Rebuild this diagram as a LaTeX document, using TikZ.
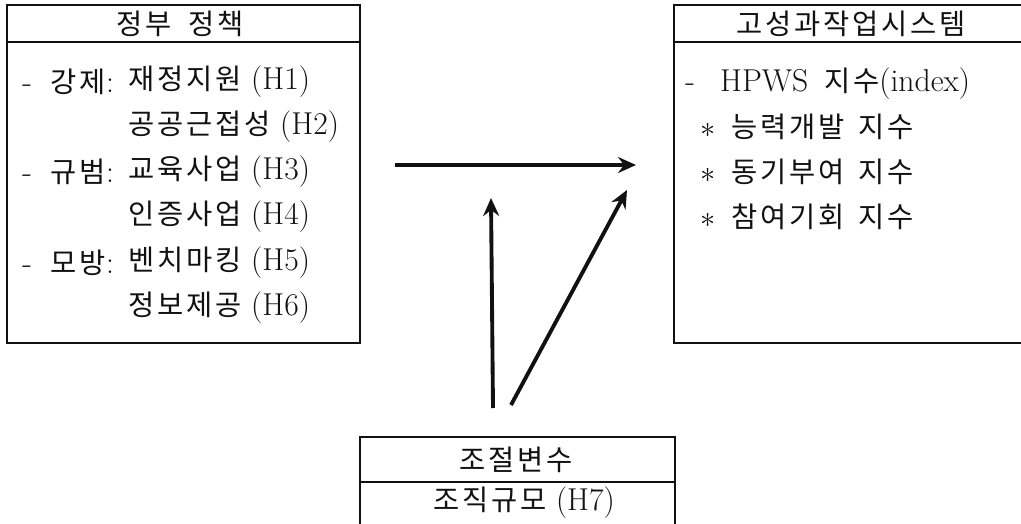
\documentclass[tikz,border=0pt]{standalone}
\usepackage{fontspec}
\newfontfamily\kr[Scale=0.9,LetterSpace=10]{Noto Sans CJK KR}
\usetikzlibrary{arrows.meta,positioning,calc}
\definecolor{ink}{HTML}{111111}
\tikzset{
  box/.style={draw=ink, line width=1.1pt, inner sep=0pt, outer sep=0pt},
  rule/.style={draw=ink, line width=1.1pt},
  head/.style={font=\fontsize{18}{21}\selectfont, text=ink, inner sep=0pt},
  item/.style={anchor=west, font=\fontsize{18}{21}\selectfont, text=ink, inner sep=0pt},
  arrow/.style={-{Stealth[length=3.6mm,width=3.2mm,inset=1.2mm]}, line width=2.2pt, draw=ink}
}

\begin{document}
\begin{tikzpicture}[x=0.02cm, y=-0.02cm]
\useasboundingbox (0,0) rectangle (1021,524);
\clip (0,0) rectangle (1021,524);
% boxes
\node[box, minimum width=7.06cm, minimum height=6.76cm] (policy) at (183.5,174) {};
\node[box, minimum width=7.12cm, minimum height=6.76cm] (hpws) at (852,174) {};
\node[box, minimum width=6.3cm, minimum height=2.2cm] (moder) at (517.5,492) {};
\draw[rule] ($(policy.north west)+(0,37)$) -- ($(policy.north east)+(0,37)$);
\draw[rule] ($(hpws.north west)+(0,37)$) -- ($(hpws.north east)+(0,37)$);
\draw[rule] ($(moder.north west)+(0,45)$) -- ($(moder.north east)+(0,45)$);
% headings
\node[head] (policyhead) at (180,24) {\kr 정부\hspace{0.6em}정책};
\node[head] (hpwshead) at (851,24) {\kr 고성과작업시스템};
\node[head] (moderhead) at (516,460) {\kr 조절변수};
\node[head] (modersize) at (524,503) {{\kr 조직규모}\ (H7)};
% policy items
\foreach \n/\y/\k in {1/82/강제, 3/172/규범, 5/263/모방}
  \node[item] (cat\n) at (22,\y) {-\hspace{0.6em}{\kr \k}:};
\foreach \n/\y/\k in {1/82/재정지원, 2/127/공공근접성, 3/172/교육사업, 4/217/인증사업, 5/263/벤치마킹, 6/308/정보제공}
  \node[item] (item\n) at (128,\y) {{\kr \k}\ (H\n)};
% hpws items
\node[item] (index) at (685,84) {-\hspace{0.8em}HPWS\hspace{0.5em}{\kr 지수}(index)};
\foreach \n/\y/\k in {1/127/능력개발, 2/172/동기부여, 3/217/참여기회}
  \node[item] (sub\n) at (700,\y) {$\ast$\hspace{0.5em}{\kr \k\hspace{0.5em}지수}};
% arrows
\coordinate (pout) at (395,165);
\coordinate (hin) at (636,165);
\coordinate (mup) at (493,408);
\coordinate (mtip) at (491,198);
\coordinate (mdiag) at (511,405);
\coordinate (htip) at (627,190);
\draw[arrow] (pout) -- (hin);
\draw[arrow] (mup) -- (mtip);
\draw[arrow] (mdiag) -- (htip);
\end{tikzpicture}
\end{document}
